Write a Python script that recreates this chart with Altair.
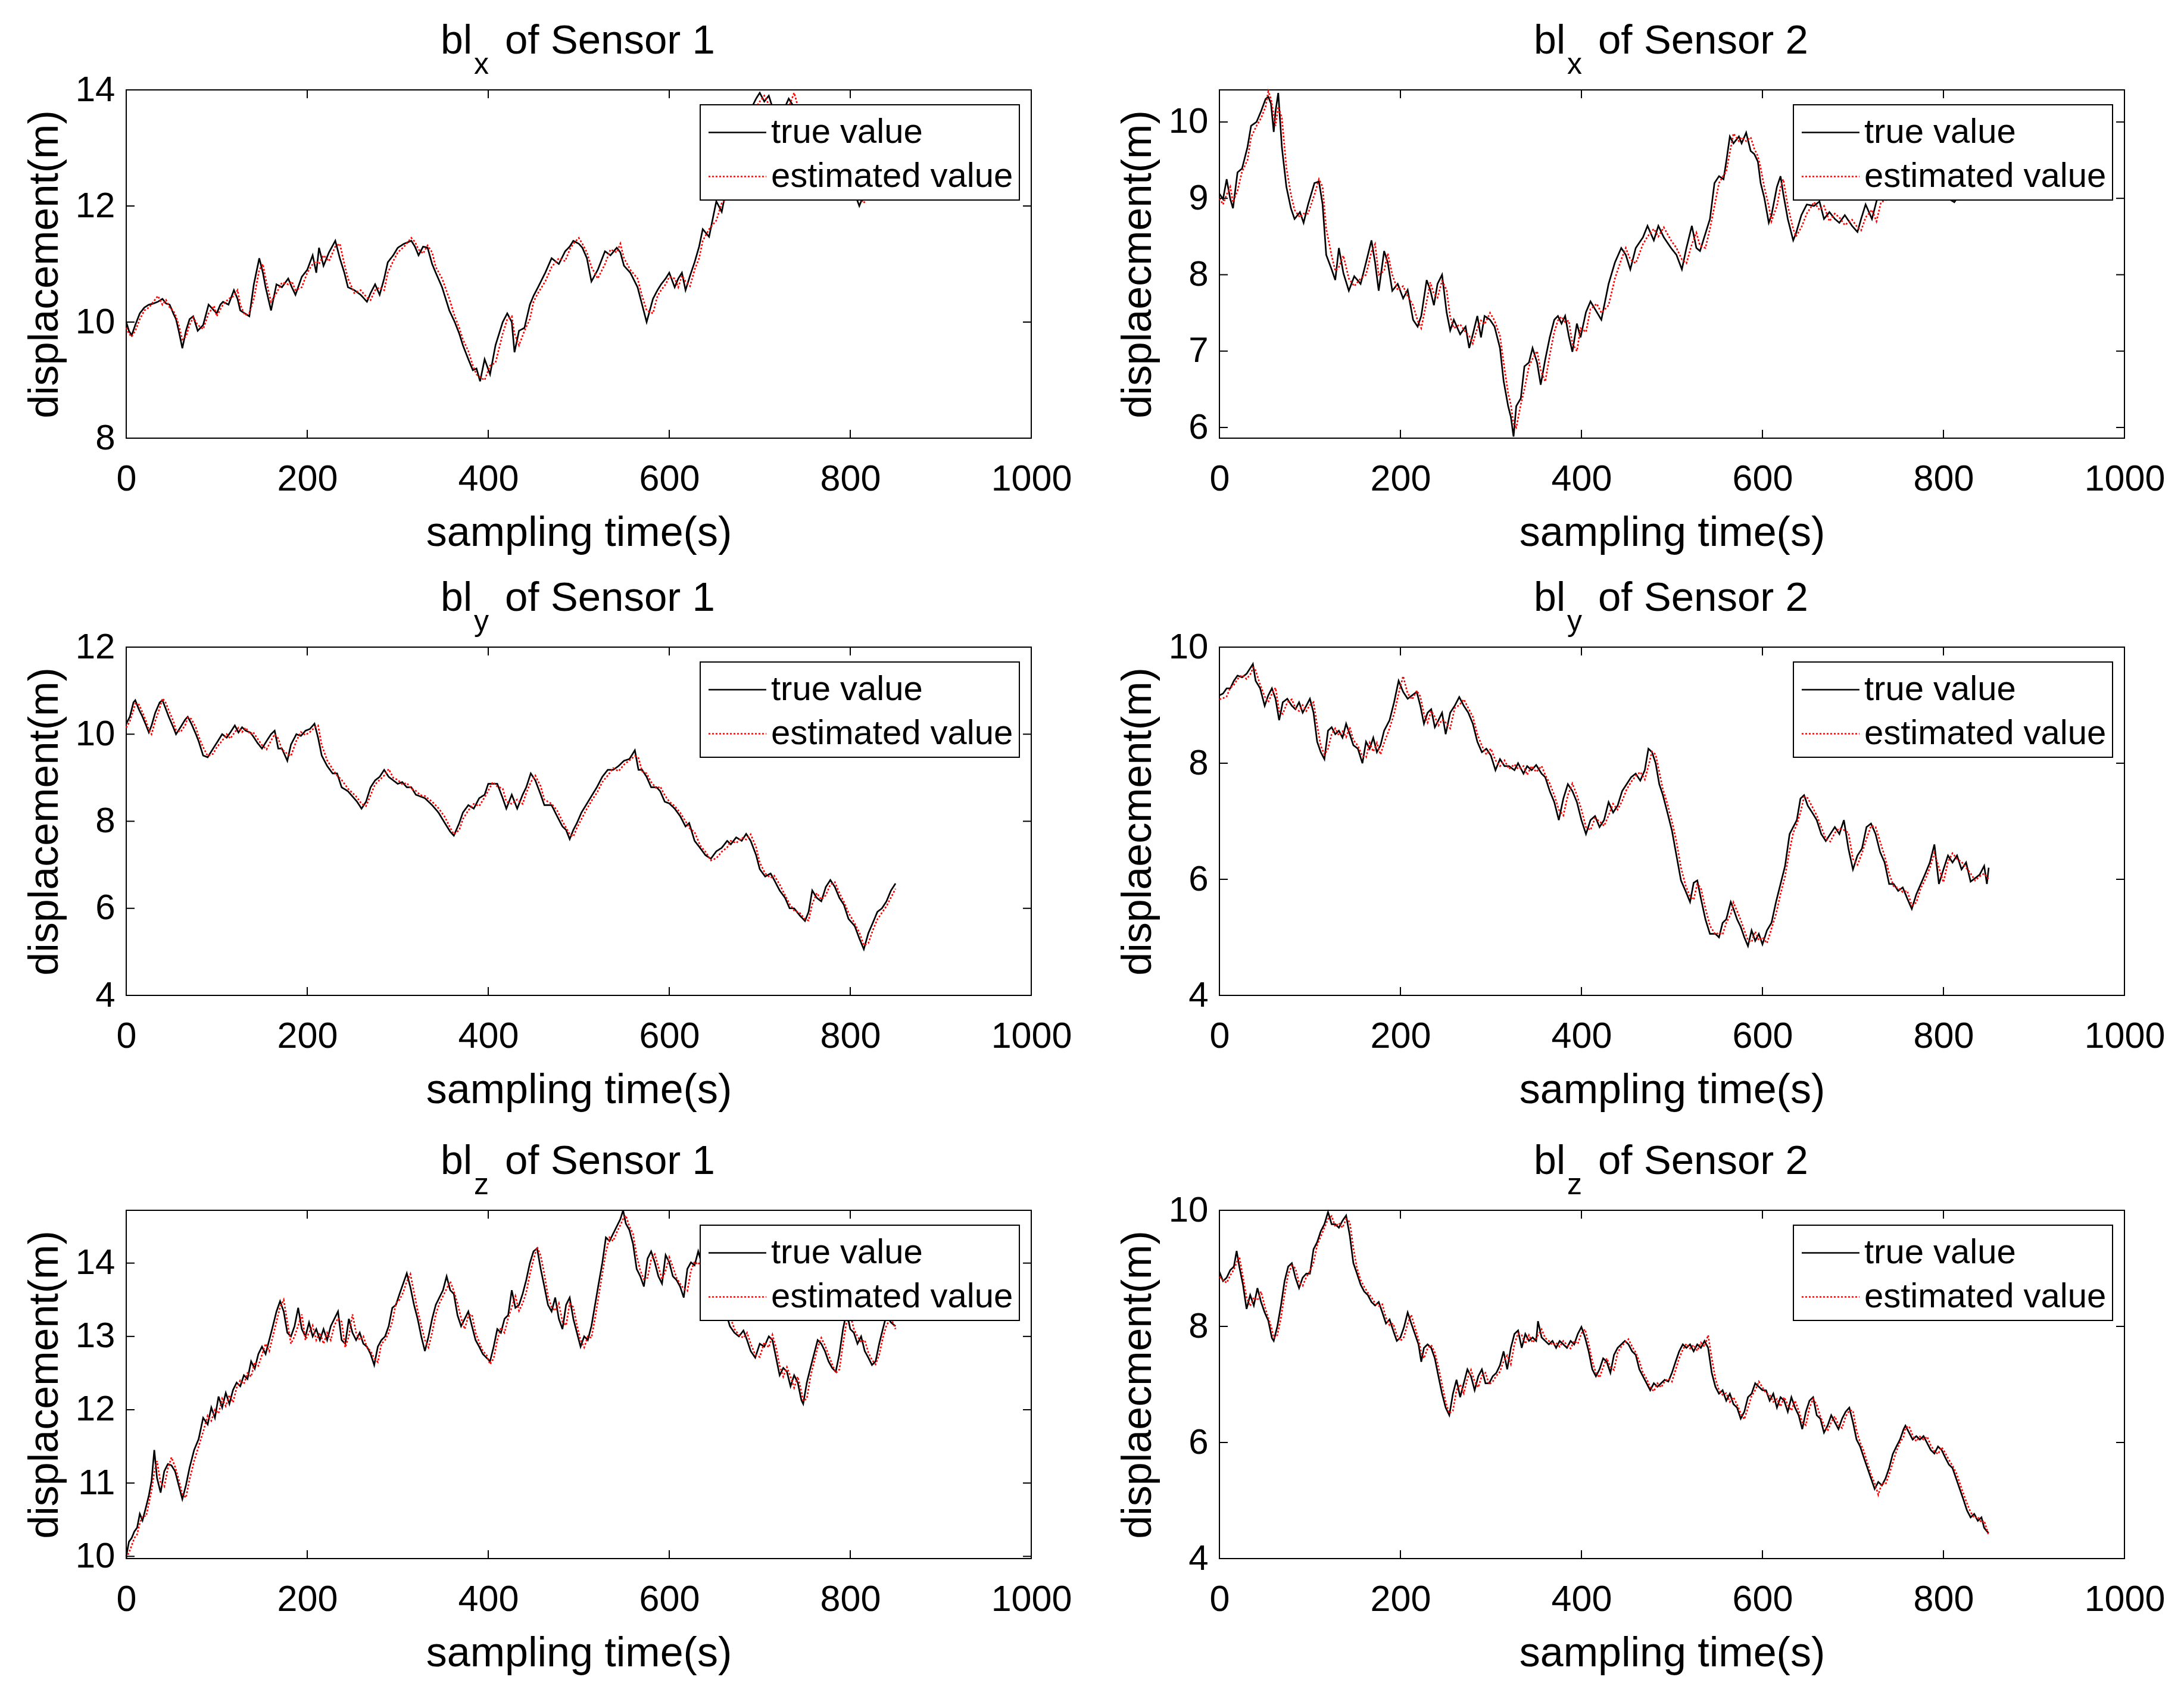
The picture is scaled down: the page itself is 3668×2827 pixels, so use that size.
import altair as alt
import pandas as pd

# ---------------- data ----------------
SERIES = ["true value", "estimated value"]
COLORS = ["#000000", "#ff0000"]
DASHES = [[1, 0], [3, 3]]
X_TICKS = [0, 200, 400, 600, 800, 1000]

T1 = [0,3,6,10,15,20,25,30,35,40,
      44,48,52,55,58,62,66,70,74,79,
      85,91,97,100,104,107,113,119,123,126,
      131,136,141,147,151,154,160,166,172,179,
      183,187,194,200,206,210,213,218,224,231,
      236,241,245,252,259,266,270,275,280,285,
      289,295,300,307,315,319,323,328,333,338,
      342,349,357,363,368,372,378,383,387,391,
      396,402,408,416,421,426,429,434,440,446,
      450,455,463,470,478,485,490,494,500,504,
      509,514,521,529,535,542,546,550,557,565,
      570,575,582,587,591,596,600,606,610,614,
      618,623,628,633,637,644,652,658,665,672,
      680,688,696,700,705,710,718,725,732,738,
      745,755,765,775,785,795,803,810,815,822,
      830,840,850]
TRUE1 = [10.00,9.85,9.77,9.95,10.15,10.25,10.30,10.32,10.35,10.40,
         10.32,10.30,10.15,10.05,9.85,9.55,9.85,10.05,10.10,9.85,
         9.95,10.30,10.20,10.15,10.30,10.35,10.30,10.55,10.40,10.20,
         10.15,10.10,10.65,11.10,10.85,10.60,10.20,10.65,10.60,10.75,
         10.60,10.47,10.78,10.90,11.15,10.85,11.28,10.97,11.20,11.40,
         11.10,10.85,10.60,10.55,10.47,10.35,10.50,10.65,10.47,10.75,
         11.03,11.15,11.28,11.35,11.40,11.30,11.15,11.30,11.28,11.00,
         10.85,10.60,10.20,10.00,9.80,9.60,9.36,9.17,9.20,8.98,
         9.36,9.10,9.60,10.00,10.15,10.00,9.48,9.85,9.90,10.30,
         10.45,10.60,10.85,11.10,11.00,11.22,11.30,11.40,11.35,11.28,
         11.10,10.70,10.90,11.22,11.15,11.28,11.20,10.97,10.85,10.60,
         10.30,10.00,10.40,10.55,10.65,10.75,10.85,10.60,10.75,10.85,
         10.55,10.80,11.03,11.30,11.60,11.47,12.08,11.90,12.45,12.90,
         13.30,13.60,13.85,13.95,13.80,13.90,13.50,13.60,13.85,13.70,
         13.40,13.20,12.90,12.70,12.50,12.40,12.30,12.00,12.20,12.30,
         12.50,12.60,12.70]
EST1 = [9.90,9.80,9.75,9.85,10.05,10.20,10.25,10.35,10.45,10.30,
        10.38,10.25,10.20,10.10,9.95,9.70,9.75,9.95,10.08,9.95,
        9.88,10.15,10.28,10.10,10.22,10.30,10.40,10.45,10.55,10.30,
        10.12,10.15,10.40,10.90,11.00,10.75,10.35,10.50,10.68,10.65,
        10.70,10.55,10.60,10.85,11.00,11.05,11.00,11.15,11.05,11.30,
        11.35,11.00,10.75,10.50,10.55,10.42,10.38,10.55,10.60,10.55,
        10.85,11.05,11.20,11.30,11.45,11.38,11.25,11.18,11.32,11.20,
        10.95,10.75,10.40,10.10,9.90,9.70,9.50,9.25,9.10,9.05,
        9.00,9.25,9.30,9.80,10.05,10.10,9.80,9.60,9.85,10.05,
        10.35,10.50,10.70,10.95,11.10,11.05,11.25,11.35,11.45,11.35,
        11.20,10.95,10.75,11.00,11.25,11.20,11.35,11.10,10.90,10.75,
        10.45,10.20,10.15,10.45,10.55,10.65,10.78,10.75,10.60,10.80,
        10.70,10.62,10.90,11.10,11.40,11.60,11.75,12.05,12.15,12.60,
        13.05,13.45,13.70,13.80,13.90,13.75,13.70,13.55,13.70,13.95,
        13.55,13.30,13.05,12.80,12.60,12.45,12.40,12.15,12.05,12.25,
        12.40,12.55,12.65]

T2 = [0,4,8,12,15,20,25,31,35,41,
      46,51,54,57,60,62,65,69,74,79,
      83,89,93,98,105,110,114,118,124,128,
      132,137,143,149,156,162,168,172,176,182,
      186,191,197,203,208,214,219,223,229,233,
      237,241,246,251,255,259,266,272,276,280,
      285,289,293,299,304,310,314,319,322,325,
      328,333,337,342,346,351,355,360,365,370,
      374,378,382,386,390,395,399,405,410,417,
      422,430,437,444,449,454,460,468,473,480,
      485,491,499,505,511,516,522,527,531,537,
      542,547,552,557,560,564,568,574,577,582,
      587,591,595,598,602,607,610,616,620,623,
      628,634,637,643,649,657,663,668,674,680,
      685,691,699,705,709,714,721,726,731,737,
      745,755,765,775,785,795,805,812,818,825,
      835,842,850]
TRUE2 = [9.06,8.99,9.25,8.99,8.87,9.34,9.39,9.67,9.95,10.00,
         10.14,10.30,10.33,10.24,9.87,10.14,10.38,9.67,9.15,8.87,
         8.73,8.82,8.68,8.92,9.20,9.22,8.92,8.26,8.07,7.93,
         8.35,8.02,7.79,7.98,7.88,8.16,8.45,8.16,7.79,8.31,
         8.16,7.79,7.88,7.69,7.80,7.41,7.32,7.46,7.93,7.80,
         7.60,7.88,8.00,7.51,7.27,7.41,7.22,7.32,7.04,7.22,
         7.46,7.18,7.46,7.41,7.32,7.04,6.61,6.28,6.14,5.88,
         6.28,6.38,6.80,6.85,7.04,6.85,6.56,6.89,7.18,7.41,
         7.46,7.36,7.46,7.20,6.99,7.36,7.18,7.51,7.65,7.51,
         7.41,7.88,8.16,8.35,8.26,8.07,8.35,8.49,8.64,8.45,
         8.64,8.49,8.35,8.26,8.07,8.35,8.64,8.35,8.31,8.54,
         8.73,9.20,9.29,9.25,9.48,9.81,9.72,9.81,9.72,9.86,
         9.62,9.58,9.48,9.20,9.01,8.68,8.78,9.15,9.29,9.06,
         8.73,8.45,8.54,8.78,8.92,8.90,8.96,8.73,8.82,8.73,
         8.68,8.78,8.64,8.56,8.73,8.92,8.73,8.96,9.10,9.05,
         9.15,9.25,9.20,9.30,9.15,9.10,9.00,8.95,9.05,9.15,
         9.10,9.20,9.12]
EST2 = [9.00,8.92,9.05,9.15,8.95,9.10,9.35,9.50,9.80,9.95,
        10.05,10.20,10.40,10.30,10.10,9.95,10.20,10.05,9.40,9.05,
        8.85,8.75,8.80,8.80,9.05,9.25,9.15,8.60,8.25,8.05,
        8.10,8.25,7.95,7.85,7.95,8.00,8.30,8.40,8.00,8.05,
        8.28,8.00,7.80,7.85,7.72,7.60,7.40,7.30,7.65,7.90,
        7.75,7.70,7.92,7.80,7.45,7.30,7.35,7.25,7.20,7.10,
        7.30,7.40,7.35,7.50,7.40,7.20,6.85,6.45,6.30,6.05,
        6.00,6.30,6.50,6.80,6.90,7.00,6.75,6.60,6.95,7.25,
        7.40,7.45,7.38,7.40,7.10,7.00,7.30,7.25,7.55,7.62,
        7.50,7.60,7.95,8.20,8.35,8.20,8.15,8.40,8.50,8.60,
        8.50,8.62,8.45,8.35,8.20,8.15,8.40,8.55,8.38,8.35,
        8.60,8.90,9.20,9.30,9.35,9.60,9.85,9.75,9.80,9.75,
        9.80,9.65,9.55,9.40,9.15,8.90,8.70,8.90,9.15,9.25,
        8.90,8.60,8.50,8.62,8.80,8.95,8.85,8.90,8.70,8.80,
        8.75,8.65,8.72,8.62,8.58,8.75,8.85,8.70,8.95,8.98,
        9.05,9.15,9.25,9.20,9.28,9.12,9.05,9.00,8.98,9.10,
        9.15,9.12,9.18]

T3 = [0,4,8,10,14,18,22,25,28,32,
      37,40,43,47,52,55,60,65,68,72,
      77,80,85,90,96,100,106,111,115,120,
      124,128,132,137,140,145,150,155,160,164,
      168,172,178,182,188,193,198,203,208,212,
      216,222,228,233,238,245,250,255,260,265,
      270,275,280,285,290,295,300,305,310,315,
      320,325,330,338,345,352,358,362,368,372,
      378,384,390,396,400,405,410,416,420,426,
      432,438,442,447,452,458,462,470,476,482,
      486,490,494,498,503,508,515,520,526,532,
      538,544,550,556,562,566,570,575,580,586,
      590,595,600,606,612,618,622,628,634,640,
      646,652,658,664,668,674,680,685,690,696,
      700,706,712,716,722,728,733,738,744,750,
      754,758,763,768,773,778,783,788,793,798,
      805,810,815,820,825,830,835,840,845,850]
TRUE3 = [10.24,10.40,10.73,10.78,10.57,10.40,10.20,10.04,10.20,10.49,
         10.73,10.78,10.62,10.40,10.16,10.00,10.16,10.33,10.40,10.24,
         10.00,9.84,9.51,9.47,9.67,9.80,10.00,9.92,10.04,10.20,
         10.04,10.16,10.08,10.04,9.96,9.80,9.67,9.84,10.00,10.08,
         9.67,9.67,9.39,9.76,10.00,9.96,10.08,10.12,10.24,9.92,
         9.51,9.27,9.10,9.10,8.78,8.69,8.57,8.45,8.29,8.45,
         8.78,8.94,9.02,9.18,9.02,8.94,8.86,8.90,8.78,8.78,
         8.61,8.57,8.53,8.37,8.20,7.96,7.76,7.67,7.96,8.20,
         8.37,8.29,8.53,8.61,8.86,8.86,8.86,8.53,8.29,8.61,
         8.29,8.61,8.78,9.10,8.94,8.61,8.37,8.37,8.12,7.88,
         7.80,7.59,7.80,7.96,8.20,8.37,8.61,8.78,9.02,9.18,
         9.18,9.27,9.39,9.43,9.63,9.18,9.18,9.02,8.78,8.78,
         8.69,8.45,8.41,8.29,8.12,7.88,7.96,7.55,7.39,7.22,
         7.14,7.31,7.39,7.55,7.47,7.63,7.55,7.71,7.55,7.22,
         6.90,6.73,6.80,6.65,6.41,6.24,6.00,6.00,5.84,5.71,
         5.92,6.41,6.24,6.16,6.49,6.65,6.49,6.24,6.08,5.76,
         5.59,5.31,5.06,5.43,5.67,5.92,6.00,6.16,6.41,6.57]
EST3 = [10.15,10.30,10.55,10.70,10.68,10.50,10.30,10.10,10.00,10.30,
        10.60,10.82,10.75,10.55,10.30,10.10,10.05,10.20,10.38,10.35,
        10.15,9.95,9.70,9.50,9.55,9.70,9.85,10.00,9.90,10.05,
        10.15,10.05,10.15,10.00,10.05,9.90,9.75,9.65,9.85,10.00,
        9.90,9.65,9.55,9.50,9.85,10.05,9.98,10.05,10.15,10.20,
        9.75,9.40,9.20,9.05,8.95,8.75,8.65,8.55,8.40,8.35,
        8.60,8.85,8.95,9.05,9.20,9.00,8.95,8.85,8.88,8.75,
        8.70,8.60,8.58,8.45,8.30,8.10,7.85,7.70,7.80,8.05,
        8.25,8.40,8.35,8.55,8.70,8.90,8.80,8.75,8.45,8.40,
        8.50,8.40,8.65,8.90,9.05,8.80,8.50,8.40,8.25,8.00,
        7.85,7.70,7.65,7.85,8.05,8.25,8.50,8.65,8.90,9.05,
        9.22,9.15,9.30,9.40,9.50,9.45,9.15,9.10,8.90,8.75,
        8.80,8.60,8.45,8.35,8.20,8.00,7.85,7.75,7.45,7.30,
        7.10,7.15,7.30,7.40,7.55,7.50,7.62,7.58,7.70,7.40,
        7.05,6.80,6.70,6.75,6.55,6.30,6.10,5.95,5.90,5.75,
        5.72,6.10,6.35,6.20,6.30,6.55,6.60,6.35,6.15,5.90,
        5.65,5.45,5.15,5.20,5.50,5.75,5.90,6.05,6.25,6.45]

T4 = [0,4,8,12,16,20,25,30,35,37,
      40,45,50,54,58,62,66,70,75,80,
      84,88,92,96,100,104,108,112,116,120,
      124,128,132,136,140,144,148,153,158,162,
      166,170,174,178,182,188,193,198,203,208,
      213,218,222,226,230,234,238,242,246,250,
      255,260,265,270,275,280,285,290,295,300,
      305,310,315,320,326,330,336,340,345,350,
      356,360,365,370,375,380,385,390,395,400,
      405,410,415,420,425,430,435,440,445,450,
      455,460,465,470,474,478,482,486,490,495,
      500,505,510,515,520,524,528,532,537,542,
      548,552,556,560,565,568,572,576,580,584,
      588,592,596,600,605,610,615,620,625,630,
      634,638,642,646,650,655,660,665,670,675,
      680,685,690,695,700,705,710,715,720,725,
      730,735,740,745,750,755,760,765,770,775,
      780,785,790,795,800,805,810,815,820,825,
      830,835,840,845,848,850]
TRUE4 = [9.17,9.20,9.29,9.29,9.42,9.51,9.48,9.54,9.66,9.71,
         9.42,9.29,8.99,9.17,9.29,9.11,8.74,9.05,9.11,8.99,
         8.93,9.05,8.87,8.99,9.11,8.87,8.37,8.19,8.07,8.56,
         8.62,8.50,8.56,8.44,8.68,8.50,8.31,8.25,8.00,8.37,
         8.25,8.44,8.19,8.31,8.56,8.74,9.05,9.42,9.23,9.11,
         9.17,9.23,8.99,8.68,8.87,8.93,8.62,8.74,8.87,8.50,
         8.87,8.99,9.14,8.99,8.87,8.68,8.37,8.19,8.25,8.13,
         7.88,8.07,7.95,7.95,7.88,8.00,7.82,7.95,7.88,7.97,
         7.82,7.76,7.52,7.33,7.02,7.39,7.64,7.52,7.33,7.02,
         6.78,7.02,7.09,6.90,7.02,7.33,7.15,7.27,7.52,7.64,
         7.76,7.82,7.70,7.88,8.25,8.19,8.00,7.64,7.45,7.15,
         6.84,6.41,5.98,5.80,5.61,5.94,5.98,5.67,5.31,5.06,
         5.06,5.00,5.25,5.31,5.61,5.49,5.31,5.18,5.00,4.85,
         5.12,4.94,5.06,4.88,5.12,5.25,5.61,5.92,6.23,6.78,
         6.90,7.02,7.39,7.45,7.27,7.15,7.02,6.78,6.66,6.78,
         6.90,6.78,7.02,6.53,6.17,6.41,6.53,6.90,6.96,6.78,
         6.47,6.29,5.92,5.92,5.80,5.86,5.67,5.49,5.74,5.92,
         6.10,6.29,6.60,5.92,6.17,6.41,6.29,6.41,6.17,6.29,
         5.96,6.02,6.08,6.23,5.92,6.20]
EST4 = [9.10,9.12,9.15,9.30,9.35,9.45,9.52,9.45,9.55,9.65,
        9.60,9.35,9.15,9.05,9.20,9.30,8.90,8.85,9.05,9.10,
        8.95,8.90,9.00,8.90,9.00,9.05,8.65,8.30,8.15,8.25,
        8.50,8.60,8.48,8.55,8.45,8.62,8.40,8.30,8.12,8.10,
        8.35,8.20,8.35,8.15,8.35,8.60,8.85,9.20,9.50,9.20,
        9.10,9.25,9.15,8.85,8.70,8.90,8.80,8.65,8.75,8.70,
        8.60,8.95,9.00,9.10,8.95,8.80,8.50,8.30,8.15,8.25,
        8.05,7.95,8.05,7.90,7.98,7.90,7.95,7.80,7.95,7.85,
        7.95,7.80,7.65,7.45,7.20,7.10,7.45,7.65,7.45,7.20,
        6.90,6.85,7.05,7.00,6.92,7.10,7.30,7.20,7.35,7.55,
        7.68,7.78,7.85,7.72,7.95,8.20,8.15,7.85,7.55,7.30,
        7.00,6.65,6.20,5.90,5.70,5.65,5.92,5.85,5.50,5.20,
        5.05,5.08,5.05,5.25,5.40,5.60,5.45,5.30,5.12,4.95,
        4.92,5.10,4.95,5.00,4.90,5.15,5.40,5.75,6.05,6.50,
        6.80,6.95,7.15,7.42,7.40,7.25,7.10,6.90,6.70,6.65,
        6.80,6.88,6.85,6.80,6.35,6.25,6.45,6.70,6.92,6.90,
        6.65,6.40,6.10,5.88,5.85,5.78,5.80,5.55,5.60,5.85,
        6.00,6.20,6.45,6.20,5.95,6.30,6.45,6.35,6.30,6.20,
        6.10,5.98,6.05,6.10,6.05,6.00]

T5 = [0,3,6,9,12,15,18,22,25,28,
      31,34,38,42,46,50,54,58,62,66,
      70,75,80,85,90,94,98,102,106,110,
      114,118,122,126,130,134,138,142,146,150,
      154,158,162,166,170,174,178,182,186,190,
      194,198,202,206,210,214,218,222,226,230,
      234,238,242,246,250,254,258,262,266,270,
      274,278,282,286,290,294,298,302,306,310,
      314,318,322,326,330,334,338,342,346,350,
      354,358,362,366,370,374,378,382,386,390,
      394,398,402,406,410,414,418,422,426,430,
      434,438,442,446,450,454,458,462,466,470,
      474,478,482,486,490,494,498,502,506,510,
      514,518,522,526,530,534,538,542,546,549,
      552,556,560,564,568,572,576,580,584,588,
      592,596,600,604,608,612,616,620,624,628,
      632,638,644,650,656,662,667,672,677,682,
      686,690,695,700,705,710,714,718,722,726,
      730,734,738,742,746,748,752,756,760,764,
      768,772,776,780,784,788,792,796,800,804,
      808,812,816,820,824,828,832,836,840,845,
      850]
TRUE5 = [10.00,10.20,10.25,10.34,10.39,10.58,10.49,10.68,10.83,11.03,
         11.45,11.07,10.87,11.16,11.26,11.24,11.16,10.97,10.78,10.97,
         11.21,11.45,11.60,11.89,11.80,12.03,11.89,12.18,12.03,12.23,
         12.08,12.27,12.37,12.32,12.47,12.42,12.66,12.56,12.76,12.86,
         12.76,12.95,13.14,13.34,13.48,13.34,13.05,13.00,13.14,13.39,
         13.10,13.00,13.19,13.00,13.10,12.95,13.10,12.95,13.14,13.24,
         13.34,12.95,12.90,13.24,13.05,12.95,13.05,12.90,12.86,12.76,
         12.61,12.86,12.95,13.00,13.14,13.39,13.43,13.58,13.72,13.86,
         13.67,13.43,13.24,13.00,12.80,13.00,13.24,13.43,13.53,13.63,
         13.82,13.63,13.58,13.29,13.14,13.24,13.34,13.14,12.95,12.86,
         12.76,12.71,12.66,12.86,13.10,13.05,13.24,13.29,13.63,13.39,
         13.43,13.58,13.77,14.00,14.16,14.20,13.92,13.68,13.43,13.34,
         13.53,13.24,13.10,13.43,13.53,13.24,13.05,12.86,13.00,12.95,
         13.14,13.43,13.72,14.00,14.35,14.30,14.40,14.50,14.60,14.72,
         14.54,14.45,14.26,13.92,13.82,13.68,14.06,14.16,14.01,13.82,
         13.72,14.11,14.01,13.82,13.77,13.68,13.53,13.92,14.01,13.97,
         14.16,13.90,13.75,13.60,13.45,13.35,13.14,13.05,13.00,13.08,
         12.95,12.80,12.71,12.90,12.86,13.00,12.95,12.71,12.47,12.57,
         12.52,12.32,12.47,12.37,12.13,12.08,12.37,12.57,12.76,12.95,
         12.90,12.80,12.66,12.57,12.52,12.76,13.10,13.34,13.10,13.05,
         12.90,13.00,12.80,12.71,12.61,12.66,12.90,13.10,13.29,13.19,
         13.14]
EST5 = [9.98,10.05,10.15,10.25,10.30,10.45,10.55,10.55,10.72,10.90,
        11.15,11.30,11.00,10.95,11.20,11.35,11.22,11.05,10.85,10.80,
        11.05,11.30,11.50,11.70,11.92,11.85,12.00,11.95,12.15,12.05,
        12.20,12.10,12.30,12.40,12.35,12.50,12.45,12.65,12.60,12.75,
        12.90,12.80,13.00,13.20,13.40,13.50,13.20,12.90,13.00,13.15,
        13.30,12.95,13.05,13.15,12.95,13.05,12.90,13.05,12.95,13.15,
        13.25,13.20,12.85,13.00,13.30,13.05,12.95,13.00,12.85,12.80,
        12.70,12.65,12.90,12.95,13.05,13.20,13.45,13.50,13.60,13.75,
        13.85,13.60,13.35,13.15,12.95,12.85,13.05,13.30,13.45,13.55,
        13.65,13.75,13.62,13.45,13.25,13.10,13.28,13.30,13.05,12.92,
        12.80,12.75,12.62,12.70,12.95,13.12,13.05,13.25,13.40,13.55,
        13.35,13.45,13.60,13.85,14.05,14.22,14.10,13.85,13.55,13.40,
        13.35,13.45,13.20,13.15,13.45,13.40,13.15,12.95,12.85,13.00,
        12.98,13.25,13.55,13.85,14.15,14.35,14.30,14.42,14.52,14.60,
        14.65,14.50,14.40,14.10,13.90,13.78,13.80,14.05,14.12,13.95,
        13.78,13.90,14.08,13.95,13.80,13.72,13.65,13.62,13.90,14.02,
        13.98,14.10,13.85,13.70,13.55,13.40,13.28,13.10,13.02,12.98,
        13.05,12.90,12.75,12.72,12.92,12.85,13.02,12.85,12.60,12.45,
        12.58,12.45,12.30,12.45,12.25,12.12,12.15,12.45,12.65,12.85,
        12.98,12.88,12.75,12.62,12.50,12.55,12.90,13.20,13.30,13.10,
        13.00,12.92,12.95,12.78,12.68,12.62,12.75,12.98,13.15,13.25,
        13.10]

T6 = [0,4,8,12,16,19,22,26,30,34,
      38,42,46,50,54,58,60,64,68,72,
      76,80,84,88,92,96,100,104,108,112,
      116,120,124,128,132,136,140,144,148,152,
      156,160,164,168,172,176,180,184,188,192,
      196,200,204,208,212,216,220,223,226,230,
      234,238,242,246,250,254,258,262,266,270,
      274,278,282,286,290,294,298,302,306,310,
      314,318,322,326,330,334,338,342,346,350,
      352,356,360,364,368,372,376,380,384,388,
      392,396,400,404,408,412,416,420,424,428,
      432,436,440,444,448,452,456,460,464,468,
      472,476,480,484,488,492,496,500,504,508,
      512,516,520,524,528,532,536,540,544,548,
      552,556,560,564,568,572,576,580,584,588,
      592,596,600,604,608,612,616,620,624,628,
      632,636,640,644,648,652,656,660,664,668,
      672,676,680,684,688,692,696,700,704,708,
      712,716,720,724,728,732,736,740,744,748,
      752,756,758,762,766,770,774,778,782,786,
      790,794,798,802,806,810,814,818,822,826,
      830,834,838,842,845,848,850]
TRUE6 = [8.94,8.78,8.84,8.97,9.03,9.30,9.03,8.72,8.30,8.54,
         8.36,8.66,8.42,8.24,8.10,7.80,7.75,8.00,8.36,8.78,
         9.03,9.09,8.84,8.66,8.84,8.91,8.91,9.33,9.45,9.64,
         9.76,9.97,9.76,9.76,9.70,9.82,9.91,9.57,9.09,8.91,
         8.72,8.60,8.54,8.42,8.36,8.42,8.24,8.05,8.12,7.93,
         7.75,7.81,7.99,8.24,8.05,7.87,7.69,7.39,7.63,7.69,
         7.63,7.45,7.14,6.84,6.60,6.47,6.84,7.08,6.78,7.02,
         7.26,7.14,6.90,7.14,7.26,7.02,7.02,7.14,7.20,7.33,
         7.57,7.26,7.63,7.87,7.93,7.63,7.87,7.75,7.81,7.75,
         8.09,7.81,7.75,7.69,7.75,7.63,7.75,7.69,7.63,7.75,
         7.69,7.87,7.99,7.81,7.57,7.26,7.14,7.26,7.45,7.39,
         7.20,7.51,7.63,7.69,7.75,7.69,7.57,7.51,7.26,7.14,
         7.02,6.90,7.02,6.96,7.02,7.08,7.05,7.20,7.39,7.57,
         7.69,7.63,7.69,7.57,7.69,7.63,7.75,7.63,7.20,6.96,
         6.84,6.90,6.72,6.84,6.66,6.60,6.41,6.53,6.78,6.84,
         7.02,6.96,6.90,6.90,6.72,6.84,6.60,6.78,6.72,6.53,
         6.78,6.60,6.47,6.23,6.53,6.72,6.78,6.47,6.41,6.17,
         6.29,6.47,6.35,6.23,6.41,6.53,6.60,6.35,6.05,5.93,
         5.74,5.56,5.38,5.20,5.32,5.26,5.38,5.56,5.80,5.93,
         6.05,6.23,6.29,6.17,6.05,6.11,6.05,6.11,5.99,5.87,
         5.81,5.93,5.87,5.74,5.62,5.56,5.38,5.20,5.02,4.83,
         4.71,4.77,4.65,4.71,4.53,4.47,4.44]
EST6 = [8.85,8.80,8.75,8.88,8.98,9.10,9.20,8.85,8.50,8.35,
        8.50,8.45,8.60,8.35,8.15,7.95,7.80,7.85,8.15,8.55,
        8.90,9.05,9.00,8.75,8.70,8.85,8.95,9.10,9.40,9.55,
        9.70,9.85,9.90,9.72,9.78,9.70,9.85,9.80,9.35,9.00,
        8.80,8.68,8.58,8.50,8.40,8.35,8.38,8.15,8.02,8.05,
        7.85,7.75,7.82,8.05,8.20,7.98,7.78,7.55,7.45,7.62,
        7.68,7.55,7.30,7.00,6.70,6.50,6.55,6.90,7.00,6.85,
        7.10,7.25,7.05,6.95,7.15,7.20,7.00,7.05,7.15,7.22,
        7.40,7.50,7.35,7.70,7.88,7.85,7.70,7.85,7.72,7.80,
        7.85,7.95,7.80,7.75,7.68,7.72,7.65,7.75,7.68,7.62,
        7.75,7.70,7.88,7.95,7.70,7.40,7.20,7.12,7.30,7.45,
        7.30,7.25,7.55,7.65,7.72,7.78,7.65,7.55,7.40,7.20,
        7.10,6.95,6.88,7.02,6.95,7.05,7.10,7.05,7.25,7.45,
        7.60,7.70,7.62,7.68,7.58,7.72,7.65,7.85,7.45,7.10,
        6.90,6.82,6.85,6.70,6.78,6.65,6.50,6.40,6.60,6.80,
        6.90,7.05,6.95,6.85,6.82,6.70,6.75,6.62,6.78,6.65,
        6.55,6.72,6.55,6.35,6.30,6.60,6.75,6.65,6.45,6.30,
        6.20,6.35,6.45,6.30,6.25,6.45,6.55,6.55,6.20,6.00,
        5.85,5.65,5.45,5.30,5.10,5.30,5.28,5.45,5.65,5.85,
        6.00,6.10,6.25,6.28,6.12,6.02,6.10,6.05,6.10,5.95,
        5.85,5.80,5.92,5.82,5.70,5.60,5.48,5.30,5.12,4.95,
        4.80,4.70,4.72,4.62,4.65,4.50,4.40]

SUBS = ["x", "x", "y", "y", "z", "z"]
NAMES = ["of Sensor 1", "of Sensor 2"] * 3
YTITLES = ["displacement(m)", "displaecment(m)"] * 3
YDOMAINS = [[8, 14], [5.86, 10.42], [4, 12], [4, 10], [9.97, 14.72], [4, 10]]
YTICKS = [[8, 10, 12, 14], [6, 7, 8, 9, 10], [4, 6, 8, 10, 12],
          [4, 6, 8, 10], [10, 11, 12, 13, 14], [4, 6, 8, 10]]
TIMES = [T1, T2, T3, T4, T5, T6]
TRUES = [TRUE1, TRUE2, TRUE3, TRUE4, TRUE5, TRUE6]
ESTS = [EST1, EST2, EST3, EST4, EST5, EST6]

# ---------------- styling ----------------
FONT = "Liberation Sans"
W, H = 1520, 585
TK = 14


def make_panel(i):
    t, tv, ev = TIMES[i], TRUES[i], ESTS[i]
    df = pd.DataFrame({
        "t": list(t) + list(t),
        "v": list(tv) + list(ev),
        "series": [SERIES[0]] * len(t) + [SERIES[1]] * len(t),
    })
    xs = alt.Scale(domain=[0, 1000], nice=False, zero=False)
    ys = alt.Scale(domain=YDOMAINS[i], nice=False, zero=False)

    xaxis = alt.Axis(values=X_TICKS, format="d", title="sampling time(s)", grid=False,
                     domain=False, ticks=False, tickSize=0, labelFontSize=61, labelFont=FONT,
                     labelColor="black", labelPadding=87, labelBaseline="alphabetic",
                     labelFlush=False, labelOverlap=False, titleFontSize=70, titleFont=FONT,
                     titleFontWeight="normal", titleColor="black", titleY=180,
                     titleBaseline="alphabetic")
    yaxis = alt.Axis(values=YTICKS[i], format="d", title=YTITLES[i], grid=False,
                     domain=False, ticks=False, tickSize=0, labelFontSize=60, labelFont=FONT,
                     labelColor="black", labelPadding=19, labelBaseline="middle",
                     labelFlush=False, labelOverlap=False, titleFontSize=70, titleFont=FONT,
                     titleFontWeight="normal", titleColor="black", titleX=-137, titleY=H / 2,
                     titleAngle=270, titleAlign="center", titleBaseline="middle")
    legend = alt.Legend(title=None, orient="none", legendX=964, legendY=25,
                        labelFontSize=58, labelFont=FONT, labelColor="black", labelLimit=0,
                        symbolType="M-0.93,0H1.84", symbolSize=4900, symbolStrokeWidth=2.5,
                        labelOffset=36, padding=10, rowPadding=8,
                        fillColor="white", strokeColor="black")

    lines = alt.Chart(df).mark_line(strokeWidth=2.7).encode(
        x=alt.X("t:Q", scale=xs, axis=xaxis),
        y=alt.Y("v:Q", scale=ys, axis=yaxis),
        color=alt.Color("series:N", scale=alt.Scale(domain=SERIES, range=COLORS), legend=legend),
        strokeDash=alt.StrokeDash("series:N", scale=alt.Scale(domain=SERIES, range=DASHES),
                                  legend=legend),
    )

    xt = pd.DataFrame({"t": X_TICKS})
    yt = pd.DataFrame({"v": YTICKS[i]})
    rule = dict(color="black", strokeWidth=2)
    tick_top = alt.Chart(xt).mark_rule(**rule).encode(
        x=alt.X("t:Q", scale=xs), y=alt.value(0), y2=alt.value(TK))
    tick_bot = alt.Chart(xt).mark_rule(**rule).encode(
        x=alt.X("t:Q", scale=xs), y=alt.value(H), y2=alt.value(H - TK))
    tick_left = alt.Chart(yt).mark_rule(**rule).encode(
        y=alt.Y("v:Q", scale=ys), x=alt.value(0), x2=alt.value(TK))
    tick_right = alt.Chart(yt).mark_rule(**rule).encode(
        y=alt.Y("v:Q", scale=ys), x=alt.value(W), x2=alt.value(W - TK))

    tdf = pd.DataFrame({"a": ["bl"], "b": [SUBS[i]], "c": [NAMES[i]]})
    tb = alt.Chart(tdf)
    t_main = tb.mark_text(font=FONT, fontSize=68, align="right", baseline="alphabetic",
                          color="black").encode(text="a:N", x=alt.value(581), y=alt.value(-61))
    t_sub = tb.mark_text(font=FONT, fontSize=50, align="left", baseline="alphabetic",
                         color="black").encode(text="b:N", x=alt.value(584), y=alt.value(-27))
    t_rest = tb.mark_text(font=FONT, fontSize=69, align="left", baseline="alphabetic",
                          color="black").encode(text="c:N", x=alt.value(636), y=alt.value(-61))

    return alt.layer(lines, tick_top, tick_bot, tick_left, tick_right,
                     t_main, t_sub, t_rest).properties(width=W, height=H)


def row(k):
    return alt.hconcat(make_panel(2 * k), make_panel(2 * k + 1), spacing=316,
                       bounds="flush").resolve_scale(color="independent",
                                                     strokeDash="independent")


lower = alt.vconcat(row(1), row(2), spacing=49).resolve_scale(
    color="independent", strokeDash="independent")
chart = alt.vconcat(row(0), lower, spacing=39).resolve_scale(
    color="independent", strokeDash="independent")

chart = chart.properties(
    padding={"left": 31, "top": 26, "right": 5, "bottom": 5},
    background="white",
).configure(font=FONT).configure_view(stroke="black", strokeWidth=2).configure_legend(
    strokeWidth=2)

chart.save("out.html", embed_options={"renderer": "svg", "actions": False})
